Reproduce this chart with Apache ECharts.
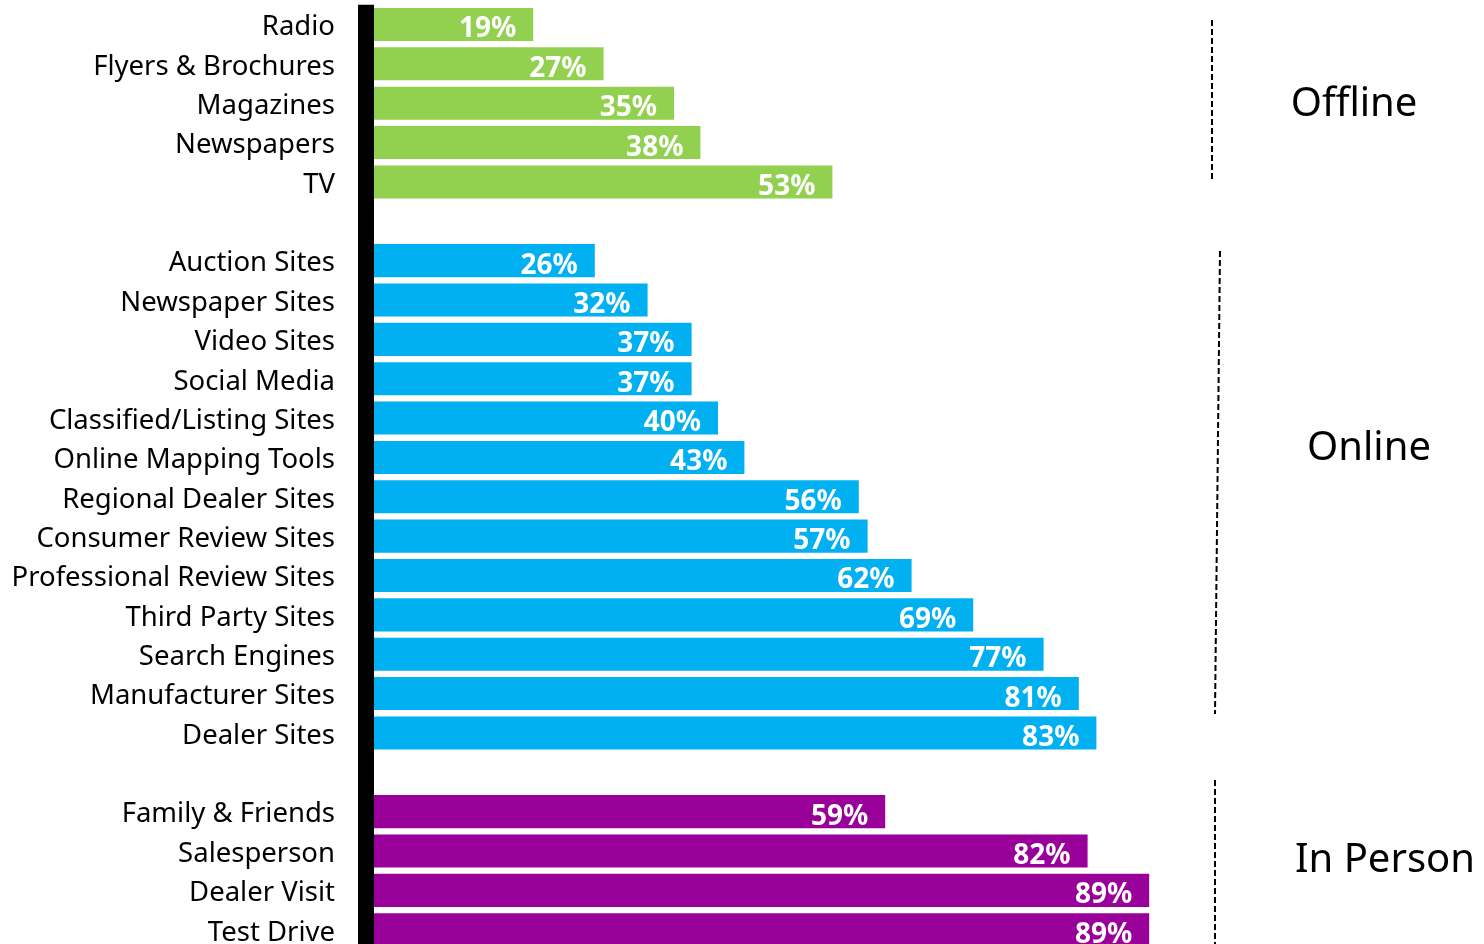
<!DOCTYPE html>
<html>
<head>
<meta charset="utf-8">
<style>
  html, body { margin: 0; padding: 0; background: #fff; overflow: hidden; }
  #chart { width: 1484px; height: 960px; }
</style>
<script src="https://cdn.jsdelivr.net/npm/echarts@6/dist/echarts.min.js"></script>
</head>
<body>
<div id="chart"></div>
<script>
// Media sources consulted, grouped; blank rows separate the groups
const offlineSources = ['Radio', 'Flyers & Brochures', 'Magazines', 'Newspapers', 'TV'];
const offlineValues = [19, 27, 35, 38, 53];

const onlineSources = ['Auction Sites', 'Newspaper Sites', 'Video Sites', 'Social Media',
  'Classified/Listing Sites', 'Online Mapping Tools', 'Regional Dealer Sites',
  'Consumer Review Sites', 'Professional Review Sites', 'Third Party Sites',
  'Search Engines', 'Manufacturer Sites', 'Dealer Sites'];
const onlineValues = [26, 32, 37, 37, 40, 43, 56, 57, 62, 69, 77, 81, 83];

const inPersonSources = ['Family & Friends', 'Salesperson', 'Dealer Visit', 'Test Drive'];
const inPersonValues = [59, 82, 89, 89];

const groupNames = ['Offline', 'Online', 'In Person'];
const groupColors = ['#92D050', '#00B0F0', '#990099'];

const FONT = '"Noto Sans", "Open Sans", sans-serif';

// Build the category list (top to bottom) with spacer rows between groups
const groups = [
  { names: offlineSources, values: offlineValues },
  { names: onlineSources, values: onlineValues },
  { names: inPersonSources, values: inPersonValues }
];
const categories = [];
const barData = [];
groups.forEach((g, gi) => {
  if (gi > 0) {
    categories.push(' '.repeat(gi));
    barData.push({ value: null });
  }
  g.names.forEach((n, i) => {
    categories.push(n);
    barData.push({ value: g.values[i], itemStyle: { color: groupColors[gi] } });
  });
});

const chart = echarts.init(document.getElementById('chart'), null, { renderer: 'canvas' });

function dashed(x1, y1, x2, y2) {
  return {
    type: 'line',
    shape: { x1: x1, y1: y1, x2: x2, y2: y2 },
    style: { stroke: '#000', lineWidth: 2, lineDash: [6, 3] },
    silent: true
  };
}
function groupText(text, cx, cy) {
  return {
    type: 'text',
    x: cx, y: cy,
    style: {
      text: text, fill: '#000', font: '40px ' + FONT,
      textAlign: 'center', textVerticalAlign: 'middle'
    },
    silent: true
  };
}

chart.setOption({
  animation: false,
  backgroundColor: '#fff',
  grid: { left: 366, width: 880, top: 4.8, height: 944.6, containLabel: false },
  xAxis: {
    type: 'value', min: 0, max: 100, show: false
  },
  yAxis: {
    type: 'category',
    inverse: true,
    data: categories,
    z: 5,
    axisLine: { show: true, lineStyle: { color: '#000', width: 16, cap: 'butt' } },
    axisTick: { show: false },
    splitLine: { show: false },
    axisLabel: {
      margin: 31,
      interval: 0,
      formatter: v => '{n|' + v + '}',
      rich: {
        n: {
          color: '#000',
          fontSize: 27.5,
          fontFamily: FONT,
          padding: [6, 0, 0, 0]
        }
      }
    }
  },
  series: [{
    type: 'bar',
    data: barData,
    barCategoryGap: '16%',
    label: {
      show: true,
      position: 'insideRight',
      distance: 17,
      offset: [0, 5],
      color: '#fff',
      fontWeight: 'bold',
      fontSize: 28,
      fontFamily: FONT,
      formatter: p => (p.value == null ? '' : p.value + '%')
    }
  }],
  graphic: [
    dashed(1212, 20, 1212, 180),
    dashed(1220, 251, 1215, 714),
    dashed(1215, 780, 1215, 944),
    groupText(groupNames[0], 1354, 105),
    groupText(groupNames[1], 1369, 449),
    groupText(groupNames[2], 1385, 861)
  ]
});
</script>
</body>
</html>
